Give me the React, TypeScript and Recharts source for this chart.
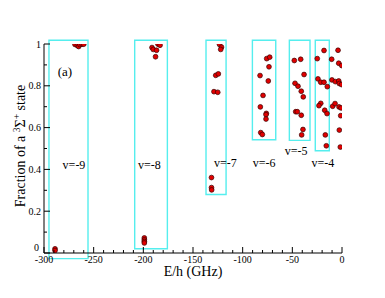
import React from 'react';
import {
  ScatterChart,
  Scatter,
  XAxis,
  YAxis,
  ReferenceArea,
} from 'recharts';

// fraction of triplet character for each bound level, grouped by vibrational level
const v9 = [
  { x: -268.8, y: 0.998 }, { x: -266.5, y: 0.993 }, { x: -265.1, y: 0.988 },
  { x: -263.8, y: 0.997 }, { x: -261.7, y: 0.999 }, { x: -260.0, y: 0.999 },
  { x: -288.9, y: 0.02 }, { x: -288.9, y: 0.012 },
];
const v8 = [
  { x: -185.2, y: 0.999 }, { x: -183.2, y: 0.994 }, { x: -191.3, y: 0.983 },
  { x: -190.0, y: 0.974 }, { x: -186.7, y: 0.97 }, { x: -187.7, y: 0.939 },
  { x: -199.0, y: 0.072 }, { x: -199.0, y: 0.063 }, { x: -199.0, y: 0.055 }, { x: -199.0, y: 0.048 },
];
const v7 = [
  { x: -123.3, y: 0.998 }, { x: -121.3, y: 0.985 }, { x: -122.1, y: 0.974 },
  { x: -127.1, y: 0.85 }, { x: -124.5, y: 0.857 }, { x: -128.9, y: 0.772 },
  { x: -125.1, y: 0.769 }, { x: -131.4, y: 0.361 }, { x: -131.4, y: 0.313 }, { x: -131.2, y: 0.302 },
];
const v6 = [
  { x: -75.8, y: 0.93 }, { x: -72.8, y: 0.937 }, { x: -73.5, y: 0.891 },
  { x: -82.5, y: 0.849 }, { x: -74.2, y: 0.823 }, { x: -79.5, y: 0.754 },
  { x: -82.2, y: 0.699 }, { x: -76.2, y: 0.668 }, { x: -76.5, y: 0.662 },
  { x: -76.5, y: 0.641 }, { x: -81.8, y: 0.576 }, { x: -80.2, y: 0.567 },
];
const v5 = [
  { x: -48.0, y: 0.921 }, { x: -41.6, y: 0.927 }, { x: -38.2, y: 0.854 },
  { x: -47.3, y: 0.812 }, { x: -44.3, y: 0.798 }, { x: -41.0, y: 0.774 },
  { x: -39.0, y: 0.747 }, { x: -46.6, y: 0.676 }, { x: -45.0, y: 0.676 },
  { x: -41.0, y: 0.659 }, { x: -39.3, y: 0.591 }, { x: -40.6, y: 0.565 },
];
const v4 = [
  { x: -18.1, y: 0.969 }, { x: -24.9, y: 0.93 }, { x: -24.2, y: 0.833 },
  { x: -21.4, y: 0.817 }, { x: -18.1, y: 0.817 }, { x: -14.8, y: 0.796 },
  { x: -21.4, y: 0.716 }, { x: -23.2, y: 0.705 }, { x: -17.4, y: 0.683 },
  { x: -15.1, y: 0.667 }, { x: -16.8, y: 0.565 }, { x: -15.8, y: 0.513 },
];
const nearThreshold = [
  { x: -4.0, y: 0.97 }, { x: -10.4, y: 0.927 }, { x: -3.3, y: 0.908 },
  { x: -0.3, y: 0.897 }, { x: -10.1, y: 0.828 }, { x: -6.7, y: 0.82 },
  { x: -3.3, y: 0.823 }, { x: -2.7, y: 0.811 }, { x: -0.5, y: 0.806 },
  { x: -9.4, y: 0.702 }, { x: -7.0, y: 0.715 }, { x: -3.0, y: 0.699 },
  { x: -1.0, y: 0.694 }, { x: -1.3, y: 0.657 }, { x: -2.7, y: 0.588 }, { x: -1.7, y: 0.507 },
];

// cyan boxes round each vibrational level
const boxes = [
  { x1: -295.0, x2: -255.7, y1: -0.027, y2: 1.018 },
  { x1: -208.7, x2: -175.8, y1: 0.02, y2: 1.018 },
  { x1: -136.9, x2: -116.7, y1: 0.28, y2: 1.018 },
  { x1: -90.2, x2: -66.7, y1: 0.542, y2: 1.018 },
  { x1: -53.0, x2: -32.2, y1: 0.539, y2: 1.018 },
  { x1: -26.9, x2: -12.8, y1: 0.489, y2: 1.018 },
];

const notes = [
  { x: -269.8, y: 0.403, text: 'v=-9', size: 12 },
  { x: -194.0, y: 0.403, text: 'v=-8', size: 12 },
  { x: -117.5, y: 0.412, text: 'v=-7', size: 12 },
  { x: -78.5, y: 0.412, text: 'v=-6', size: 12 },
  { x: -46.3, y: 0.47, text: 'v=-5', size: 12 },
  { x: -19.3, y: 0.412, text: 'v=-4', size: 12 },
  { x: -278.9, y: 0.849, text: '(a)', size: 13 },
];

const xTicks = Array.from({ length: 31 }, (_, i) => -300 + i * 10);
const yTicks = Array.from({ length: 11 }, (_, i) => i / 10);

const serif = { fontFamily: "'Liberation Serif', 'Times New Roman', serif" };

const dot = (props: any) => (
  <circle cx={props.cx} cy={props.cy} r={2.4} fill="#e00000" stroke="#3a0000" strokeWidth={0.7} />
);

const note = (props: any) => (
  <text
    x={props.cx}
    y={props.cy}
    textAnchor="middle"
    fontSize={props.payload.size}
    style={serif}
    fill="#000"
  >
    {props.payload.text}
  </text>
);

const BottomTick = ({ x, y, payload }: any) => {
  const major = payload.value % 50 === 0;
  return (
    <g>
      <line x1={x} x2={x} y1={y} y2={y - (major ? 6 : 3)} stroke="#000" />
      {major && (
        <text x={x} y={y + 9.5} textAnchor="middle" fontSize={10} style={serif} fill="#000">
          {payload.value}
        </text>
      )}
    </g>
  );
};

const TopTick = ({ x, y, payload }: any) => {
  const major = payload.value % 50 === 0;
  return <line x1={x} x2={x} y1={y} y2={y + (major ? 6 : 3)} stroke="#000" />;
};

const LeftTick = ({ x, y, payload }: any) => {
  const major = Math.round(payload.value * 10) % 2 === 0;
  const isZero = payload.value === 0;
  return (
    <g>
      <line x1={x} x2={x + (major ? 6 : 3)} y1={y} y2={y} stroke="#000" />
      {major && (
        <text x={x - (isZero ? 5 : 3)} y={y + (isZero ? -2 : 3.5)} textAnchor="end" fontSize={10} style={serif} fill="#000">
          {Math.round(payload.value * 10) / 10}
        </text>
      )}
    </g>
  );
};

const RightTick = ({ x, y, payload }: any) => {
  const major = Math.round(payload.value * 10) % 2 === 0;
  return <line x1={x} x2={x - (major ? 6 : 3)} y1={y} y2={y} stroke="#000" />;
};

const YTitle = () => (
  <text
    transform="translate(25,146) rotate(-90)"
    textAnchor="middle"
    fontSize={14}
    style={serif}
    fill="#000"
  >
    Fraction of a <tspan dy={-5} fontSize={9.5}>3</tspan>
    <tspan dy={5}>Σ</tspan>
    <tspan dy={-5} fontSize={9.5}>+</tspan>
    <tspan dy={5}> state</tspan>
  </text>
);

const XTitle = () => (
  <text x={193} y={276} textAnchor="middle" fontSize={14} style={serif} fill="#000">
    E/h (GHz)
  </text>
);

export default function App() {
  const series = [v9, v8, v7, v6, v5, v4, nearThreshold];
  return (
    <div style={{ position: 'absolute', left: 0, top: 0, background: '#fff' }}>
      <ScatterChart width={385} height={298} margin={{ top: 44, right: 43, left: 0, bottom: 0 }}>
        <XAxis
          type="number"
          dataKey="x"
          domain={[-300, 0]}
          ticks={xTicks}
          interval={0}
          allowDataOverflow
          height={45}
          tickSize={0}
          tickMargin={0}
          tickLine={false}
          stroke="#000"
          tick={<BottomTick />}
          label={<XTitle />}
        />
        <XAxis
          xAxisId="top"
          orientation="top"
          type="number"
          dataKey="x"
          domain={[-300, 0]}
          ticks={xTicks}
          interval={0}
          allowDataOverflow
          height={0}
          tickSize={0}
          tickMargin={0}
          tickLine={false}
          stroke="#000"
          tick={<TopTick />}
        />
        <YAxis
          type="number"
          dataKey="y"
          domain={[0, 1]}
          ticks={yTicks}
          interval={0}
          allowDataOverflow
          width={44}
          tickSize={0}
          tickMargin={0}
          tickLine={false}
          stroke="#000"
          tick={<LeftTick />}
          label={<YTitle />}
        />
        <YAxis
          yAxisId="right"
          orientation="right"
          type="number"
          dataKey="y"
          domain={[0, 1]}
          ticks={yTicks}
          interval={0}
          allowDataOverflow
          width={0}
          tickSize={0}
          tickMargin={0}
          tickLine={false}
          stroke="#000"
          tick={<RightTick />}
        />
        {boxes.map((b, i) => (
          <ReferenceArea
            key={i}
            x1={b.x1}
            x2={b.x2}
            y1={b.y1}
            y2={b.y2}
            ifOverflow="visible"
            fill="none"
            fillOpacity={0}
            stroke="#55eeee"
            strokeWidth={1.4}
          />
        ))}
        <Scatter data={notes} shape={note} isAnimationActive={false} />
        {series.map((s, i) => (
          <Scatter key={i} data={s} shape={dot} isAnimationActive={false} />
        ))}
      </ScatterChart>
    </div>
  );
}
